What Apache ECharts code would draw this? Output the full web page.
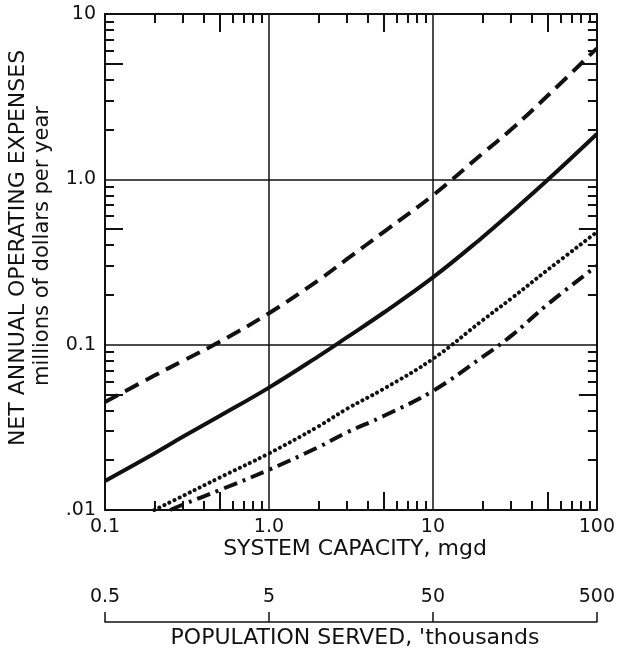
<!DOCTYPE html>
<html>
<head>
<meta charset="utf-8">
<script src="https://cdn.jsdelivr.net/npm/echarts@6/dist/echarts.min.js"></script>
<style>
  html, body { margin: 0; padding: 0; background: #fff; }
  #chart { width: 618px; height: 653px; }
</style>
</head>
<body>
<div id="chart"></div>
<script>
// ---- data ----
const capacity      = [0.1, 0.2, 0.3, 0.5, 1, 2, 3, 5, 10, 20, 30, 50, 100];
const dashedValues  = [0.045, 0.065, 0.08, 0.104, 0.155, 0.245, 0.33, 0.48, 0.8, 1.43, 2.0, 3.2, 6.2];
const solidValues   = [0.015, 0.022, 0.0278, 0.037, 0.055, 0.085, 0.111, 0.156, 0.255, 0.445, 0.63, 0.99, 1.88];
const dottedCap     = [0.2, 0.3, 0.5, 1, 2, 3, 5, 10, 20, 30, 50, 100];
const dottedValues  = [0.01, 0.0122, 0.0157, 0.022, 0.032, 0.041, 0.054, 0.082, 0.14, 0.19, 0.283, 0.48];
const dashDotCap    = [0.25, 0.3, 0.5, 1, 2, 3, 5, 10, 20, 30, 50, 100];
const dashDotValues = [0.01, 0.0108, 0.0132, 0.0175, 0.024, 0.0295, 0.037, 0.0525, 0.084, 0.113, 0.175, 0.3];

const xTickValues = [0.1, 1, 10, 100];
const xTickLabels = ['0.1', '1.0', '10', '100'];
const yTickValues = [0.01, 0.1, 1, 10];
const yTickLabels = ['.01', '0.1', '1.0', '10'];
const popTickLabels = ['0.5', '5', '50', '500'];

const xTitle = 'SYSTEM CAPACITY, mgd';
const popTitle = "POPULATION SERVED, 'thousands";
const yTitle1 = 'NET ANNUAL OPERATING EXPENSES';
const yTitle2 = 'millions of dollars per year';

// minor tick positions (2..9 within each decade), 5 drawn longer
function minorTicks(lo, hi, mults) {
  const out = [];
  for (let d = lo; d < hi; d *= 10) mults.forEach(m => out.push(+(d * m).toPrecision(6)));
  return out;
}
const xMinor = minorTicks(0.1, 100, [2, 3, 4, 6, 7, 8, 9]);
const xFive  = minorTicks(0.1, 100, [5]);
const yMinor = minorTicks(0.01, 10, [2, 3, 4, 6, 7, 8, 9]);
const yFive  = minorTicks(0.01, 10, [5]);

function lookup(vals, labels) {
  return function (v) {
    for (let i = 0; i < vals.length; i++) {
      if (Math.abs(Math.log10(vals[i]) - Math.log10(v)) < 1e-6) return labels[i];
    }
    return '';
  };
}

const FONT = 'DejaVu Sans';
const BLACK = '#111';

function tickAxis(base, pos, values, len, showLine) {
  return Object.assign({
    type: 'log', logBase: 10, position: pos,
    axisLine: { show: !!showLine, onZero: false, lineStyle: { color: BLACK, width: 2 } },
    axisTick: { show: true, inside: true, length: len, customValues: values, lineStyle: { color: BLACK, width: 2 } },
    axisLabel: { show: false },
    splitLine: { show: false }
  }, base);
}

const xBase = { min: 0.1, max: 100, gridIndex: 0 };
const yBase = { min: 0.01, max: 10, gridIndex: 0 };

const chart = echarts.init(document.getElementById('chart'), null, { renderer: 'canvas' });

const option = {
  backgroundColor: '#fff',
  animation: false,
  textStyle: { fontFamily: FONT, fontSize: 19, color: BLACK },
  grid: { left: 105, right: 20, top: 14, bottom: 143, containLabel: false },
  xAxis: [
    {
      type: 'log', logBase: 10, min: 0.1, max: 100, position: 'bottom',
      axisLine: { show: true, onZero: false, lineStyle: { color: BLACK, width: 2 } },
      axisTick: { show: false, customValues: xTickValues },
      axisLabel: {
        show: true, customValues: xTickValues, formatter: lookup(xTickValues, xTickLabels),
        color: BLACK, fontFamily: FONT, fontSize: 19, margin: 8
      },
      splitLine: { show: true, lineStyle: { color: BLACK, width: 1.5 } }
    },
    tickAxis(xBase, 'bottom', xMinor, 9, false),
    tickAxis(xBase, 'bottom', xFive, 18, false),
    tickAxis(xBase, 'top', xMinor, 9, true),
    tickAxis(xBase, 'top', xFive, 18, false),
    {
      type: 'log', logBase: 10, min: 0.1, max: 100, position: 'bottom', offset: 112,
      axisLine: { show: true, onZero: false, lineStyle: { color: BLACK, width: 1.5 } },
      axisTick: { show: true, inside: true, length: 10, customValues: xTickValues, lineStyle: { color: BLACK, width: 1.5 } },
      axisLabel: {
        show: true, inside: true, customValues: xTickValues, formatter: lookup(xTickValues, popTickLabels),
        color: BLACK, fontFamily: FONT, fontSize: 19, margin: 15
      },
      splitLine: { show: false }
    }
  ],
  yAxis: [
    {
      type: 'log', logBase: 10, min: 0.01, max: 10, position: 'left',
      axisLine: { show: true, onZero: false, lineStyle: { color: BLACK, width: 2 } },
      axisTick: { show: false, customValues: yTickValues },
      axisLabel: {
        show: true, customValues: yTickValues, formatter: lookup(yTickValues, yTickLabels),
        color: BLACK, fontFamily: FONT, fontSize: 19, margin: 9
      },
      splitLine: { show: true, lineStyle: { color: BLACK, width: 1.5 } }
    },
    tickAxis(yBase, 'left', yMinor, 9, false),
    tickAxis(yBase, 'left', yFive, 18, false),
    tickAxis(yBase, 'right', yMinor, 9, true),
    tickAxis(yBase, 'right', yFive, 18, false)
  ],
  graphic: [
    { type: 'text', x: 18, y: 248, rotation: Math.PI / 2,
      style: { text: yTitle1, fill: BLACK, font: '22px "DejaVu Sans"', textAlign: 'center', textVerticalAlign: 'middle' } },
    { type: 'text', x: 43, y: 246, rotation: Math.PI / 2,
      style: { text: yTitle2, fill: BLACK, font: '21px "DejaVu Sans"', textAlign: 'center', textVerticalAlign: 'middle' } },
    { type: 'text', x: 355, y: 549,
      style: { text: xTitle, fill: BLACK, font: '22px "DejaVu Sans"', textAlign: 'center', textVerticalAlign: 'middle' } },
    { type: 'text', x: 355, y: 638,
      style: { text: popTitle, fill: BLACK, font: '22px "DejaVu Sans"', textAlign: 'center', textVerticalAlign: 'middle' } }
  ],
  series: [
    {
      type: 'line', name: 'dashed', xAxisIndex: 0, yAxisIndex: 0,
      data: capacity.map((c, i) => [c, dashedValues[i]]),
      showSymbol: false, smooth: 0.4, clip: true,
      lineStyle: { color: BLACK, width: 4, type: [15, 8], cap: 'butt' }
    },
    {
      type: 'line', name: 'solid', xAxisIndex: 0, yAxisIndex: 0,
      data: capacity.map((c, i) => [c, solidValues[i]]),
      showSymbol: false, smooth: 0.4, clip: true,
      lineStyle: { color: BLACK, width: 4, type: 'solid' }
    },
    {
      type: 'line', name: 'dotted', xAxisIndex: 0, yAxisIndex: 0,
      data: dottedCap.map((c, i) => [c, dottedValues[i]]),
      showSymbol: false, smooth: 0.4, clip: true,
      lineStyle: { color: BLACK, width: 4, type: [0.1, 5.5], cap: 'round' }
    },
    {
      type: 'line', name: 'dashdot', xAxisIndex: 0, yAxisIndex: 0,
      data: dashDotCap.map((c, i) => [c, dashDotValues[i]]),
      showSymbol: false, smooth: 0.4, clip: true,
      lineStyle: { color: BLACK, width: 4, type: [14, 6, 3, 6], cap: 'butt' }
    }
  ]
};
chart.setOption(option);
</script>
</body>
</html>
